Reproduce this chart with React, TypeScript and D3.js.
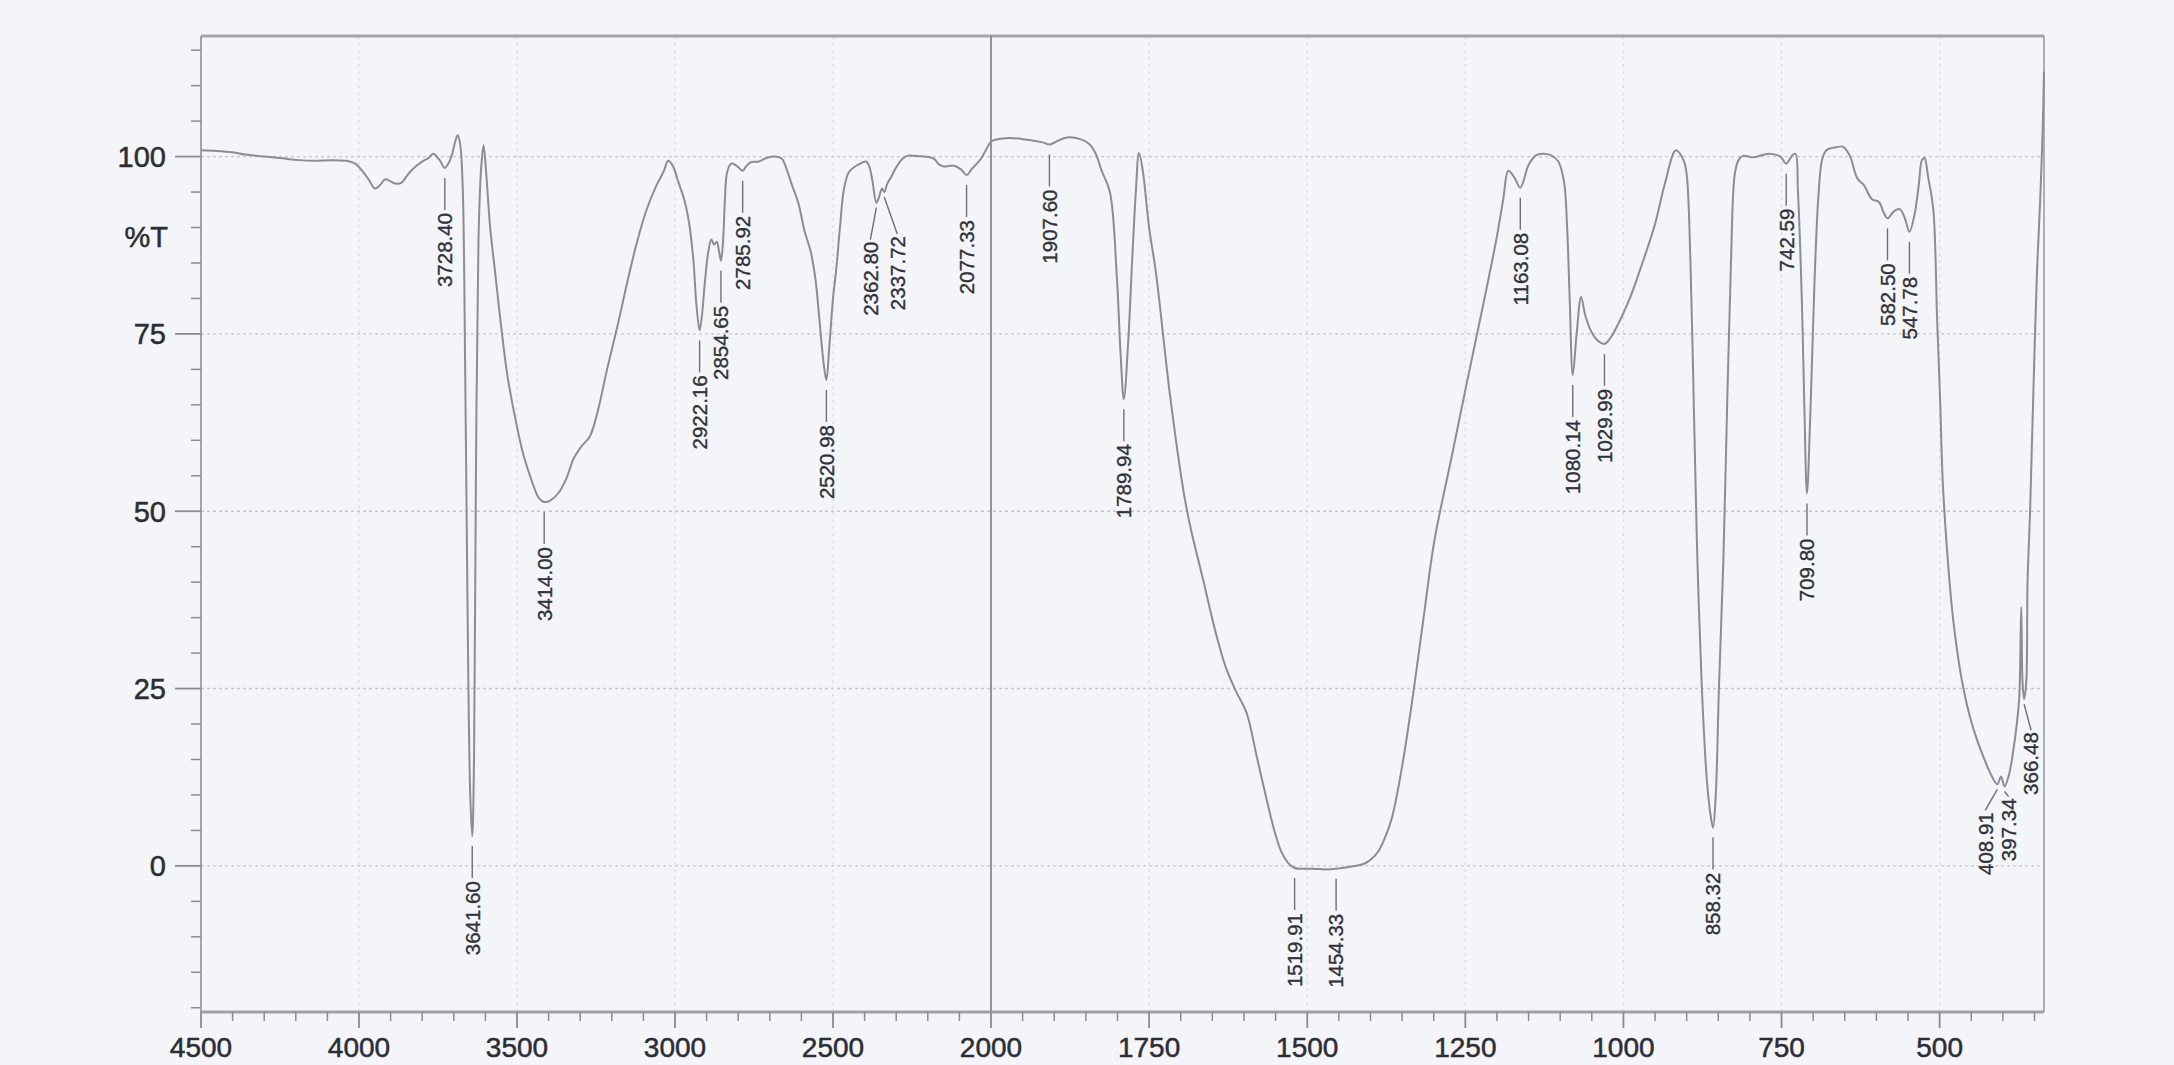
import * as d3 from 'd3';
import { useEffect, useRef } from 'react';

// Wavenumber (cm-1) and %T
const wavenumbers = [
  4500, 4450, 4400, 4360, 4300, 4250, 4190, 4140, 4090, 4040, 4012, 3990, 3970, 3950, 3935, 3917, 3900, 3885, 3866,
  3850, 3835, 3815, 3800, 3780, 3765, 3745, 3728.4, 3715, 3705, 3695, 3688, 3680, 3672, 3664, 3655, 3648, 3641.6,
  3636, 3630, 3622, 3614, 3606, 3598, 3585, 3570, 3550, 3530, 3505, 3480, 3455, 3430, 3414, 3395, 3370, 3345, 3320,
  3295, 3270, 3245, 3215, 3180, 3150, 3120, 3090, 3060, 3035, 3022, 3008, 2990, 2970, 2955, 2942, 2932, 2922.16,
  2915, 2905, 2895, 2885, 2876, 2868, 2860, 2854.65, 2848, 2842, 2835, 2822, 2808, 2795, 2785.92, 2775, 2760, 2735,
  2710, 2685, 2662, 2645, 2630, 2610, 2590, 2570, 2555, 2543, 2530, 2520.98, 2512, 2500, 2490, 2478, 2465, 2450,
  2430, 2410, 2395, 2385, 2375, 2362.8, 2355, 2345, 2337.72, 2328, 2315, 2300, 2280, 2265, 2240, 2210, 2181, 2165,
  2149, 2130, 2117, 2095, 2077.33, 2060, 2045, 2032, 2015, 2000,
  1985, 1965, 1945, 1930, 1918, 1907.6, 1895, 1880, 1860, 1845, 1835, 1825, 1812, 1801, 1795, 1789.94, 1783, 1777,
  1771, 1766, 1760, 1750, 1739, 1717, 1695, 1684, 1665, 1645, 1628, 1612, 1596, 1580, 1564, 1552, 1541, 1530,
  1519.91, 1490, 1470, 1454.33, 1430, 1410, 1398, 1388, 1377, 1366, 1350, 1333, 1316, 1299, 1272, 1246, 1222, 1201,
  1190, 1182, 1172, 1163.08, 1150, 1138, 1129, 1115, 1103, 1094, 1089, 1085, 1080.14, 1074, 1067, 1060, 1050, 1040,
  1029.99, 1020, 1005, 990, 970, 950, 935, 917, 905, 900, 894, 888, 883, 876, 868, 862, 858.32, 854, 849, 842, 836,
  830, 824, 818, 811, 794, 770, 752, 742.59, 733, 728, 724, 718, 714, 709.8, 704, 698, 692, 686, 680, 675, 664, 653,
  642, 630, 620, 607, 596, 588, 582.5, 572, 563, 555, 547.78, 540, 533, 528, 524, 518, 510, 504, 499, 495, 487, 479,
  471, 463, 452, 441, 430, 420, 408.91, 403, 397.34, 390, 384, 378, 374, 371, 369, 366.48, 363, 361, 357, 353, 346,
  341, 337, 335,
];

const transmittance = [
  100.9, 100.8, 100.6, 100.3, 100.0, 99.8, 99.5, 99.4, 99.5, 99.4, 99.0, 98.0, 96.8, 95.5, 95.9, 96.8, 96.5, 96.2, 96.3,
  97.2, 98.0, 98.8, 99.3, 99.8, 100.4, 99.5, 98.4, 99.2, 100.4, 102.2, 103.0, 101.8, 96, 70, 30, 10, 4.2,
  15, 55, 88, 98, 101.6, 98, 90, 84, 76, 69, 63, 58, 54.5, 51.8, 51.3, 51.5, 52.5, 54.5, 57.5,
  59.2, 60.5, 64, 70, 76.5, 82.5, 88, 92.5, 95.8, 98, 99.4, 98.8, 96.5, 93.8, 90.5, 85.5, 79, 75.5,
  77.5, 82.5, 86.5, 88.3, 87.6, 88.0, 86.5, 85.3, 88, 94, 97.8, 99.0, 98.8, 98.3, 98.0, 98.6, 99.2, 99.3,
  99.8, 100.0, 99.7, 98, 96, 93.5, 89.5, 86.5, 82.5, 77, 71, 68.5, 73, 80, 84, 90, 95.5, 97.8,
  98.6, 99.1, 99.3, 98.6, 96.5, 93.5, 94.2, 95.5, 95.0, 96.2, 97.2, 98.5, 99.7, 100.1, 100.1, 100.0, 99.7, 98.9,
  98.6, 98.7, 98.7, 98.2, 97.4, 98.3, 99.0, 99.7, 101.0, 102.1,
  102.5, 102.6, 102.4, 102.2, 102.0, 101.7, 102.2, 102.7, 102.5, 101.8, 100.5, 98, 95, 83, 72, 65.8, 74, 85,
  95, 100.5, 98, 90, 83.5, 66.4, 52.5, 47.5, 40.5, 33, 27.8, 24.5, 21.6, 15.5, 9.3, 5, 2, 0.4,
  -0.3, -0.4, -0.5, -0.4, -0.1, 0.3, 1, 2, 4, 6.8, 14, 23.9, 35, 45.8, 57.5, 68.8, 79, 88.3,
  94, 98, 97, 95.6, 98.8, 100.2, 100.4, 100.2, 99.3, 96.5, 90, 80, 69.2, 75, 80.2, 77.5, 75.2, 74,
  73.6, 74.5, 77, 80, 85, 90.5, 96, 100.9, 99.5, 97.5, 85, 62, 43, 25, 12, 7, 5.4, 10, 25, 43, 65,
  85, 97.5, 99.5, 100.1, 99.9, 100.4, 100, 99.0, 100.2, 100.4, 95, 80, 65, 52.5, 65, 82, 94, 99.5, 100.8, 101.1, 101.3, 101.4,
  100.1, 96.9, 96, 94, 93.6, 92, 91.3, 92.3, 92.6, 91.3, 89.4, 91.7, 96, 99.5, 99.8, 97, 92.5, 77, 65, 54, 43, 35,
  29.5, 25.3, 21, 17.8, 15.2, 13.1, 11.5, 12.6, 11.2, 13.0, 16, 20, 24, 36.5, 26, 23.5, 26, 40, 50, 63, 84,
  94, 104, 112,
];

const peakLabels = [
  '3728.40', '3641.60', '3414.00', '2922.16', '2854.65', '2785.92', '2520.98', '2362.80', '2337.72', '2077.33',
  '1907.60', '1789.94', '1519.91', '1454.33', '1163.08', '1080.14', '1029.99', '858.32', '742.59', '709.80',
  '582.50', '547.78', '408.91', '397.34', '366.48',
];

const xMajorTicks = [4500, 4000, 3500, 3000, 2500, 2000, 1750, 1500, 1250, 1000, 750, 500];
const yMajorTicks = [100, 75, 50, 25, 0];
const yTitle = '%T';

// crowded labels are pushed sideways with a slanted leader
const leaderLayout: Record<string, { dx: number; drop: number }> = {
  '2362.80': { dx: -6, drop: 39 },
  '2337.72': { dx: 13, drop: 44 },
  '408.91': { dx: -12, drop: 28 },
  '397.34': { dx: 4, drop: 12 },
  '366.48': { dx: 7, drop: 33 },
};

const W = 2174;
const H = 1065;
const BG = '#f4f5f9';
const FONT = '"Liberation Sans", Arial, sans-serif';
const INK = '#2c2d35';

export default function App() {
  const ref = useRef<SVGSVGElement>(null);

  useEffect(() => {
    if (!ref.current) return;
    document.body.style.margin = '0';
    document.body.style.overflow = 'hidden';

    const svg = d3.select(ref.current);
    svg.selectAll('*').remove();

    const left = 201, right = 2044, top = 36, bottom = 1012;

    // the instrument compresses 4500-2000 to half the scale of 2000-335
    const x = d3.scaleLinear().domain([4500, 2000, 335]).range([left, 991, right]);
    const y = d3.scaleLinear().domain([-20.6, 117]).range([bottom, top]);

    svg.append('rect').attr('width', W).attr('height', H).attr('fill', BG);

    // Grid
    const grid = svg.append('g');
    grid.selectAll('line.h').data(yMajorTicks).join('line')
      .attr('x1', left).attr('x2', right)
      .attr('y1', d => y(d)).attr('y2', d => y(d))
      .attr('stroke', '#c3c5cf').attr('stroke-width', 1.4).attr('stroke-dasharray', '3,3');
    grid.selectAll('line.v').data(xMajorTicks.filter(d => d !== 4500 && d !== 2000)).join('line')
      .attr('x1', d => x(d)).attr('x2', d => x(d))
      .attr('y1', top).attr('y2', bottom)
      .attr('stroke', '#d9dae2').attr('stroke-width', 1.2).attr('stroke-dasharray', '3,4');

    // Frame
    svg.append('line').attr('x1', left).attr('x2', right).attr('y1', top).attr('y2', top)
      .attr('stroke', '#a4a5ae').attr('stroke-width', 3);
    svg.append('line').attr('x1', left).attr('x2', left).attr('y1', top).attr('y2', bottom)
      .attr('stroke', '#8e8f99').attr('stroke-width', 1.6);
    svg.append('line').attr('x1', right).attr('x2', right).attr('y1', top).attr('y2', bottom)
      .attr('stroke', '#9a9ba4').attr('stroke-width', 1.6);
    svg.append('line').attr('x1', x(2000)).attr('x2', x(2000)).attr('y1', top).attr('y2', bottom)
      .attr('stroke', '#7a7b85').attr('stroke-width', 1.6);
    svg.append('line').attr('x1', left).attr('x2', right).attr('y1', bottom).attr('y2', bottom)
      .attr('stroke', '#9fa0a9').attr('stroke-width', 3);

    // X ticks
    const xMinor = [...d3.range(4400, 2000, -100), ...d3.range(1950, 340, -50)]
      .filter(d => !xMajorTicks.includes(d));
    const xt = svg.append('g');
    xt.selectAll('line.minor').data(xMinor).join('line')
      .attr('x1', d => x(d)).attr('x2', d => x(d))
      .attr('y1', bottom).attr('y2', bottom + 9)
      .attr('stroke', '#8a8b95').attr('stroke-width', 1.5);
    xt.selectAll('line.major').data(xMajorTicks).join('line')
      .attr('x1', d => x(d)).attr('x2', d => x(d))
      .attr('y1', bottom).attr('y2', bottom + 16)
      .attr('stroke', '#8a8b95').attr('stroke-width', 1.8);
    xt.selectAll('text').data(xMajorTicks).join('text')
      .attr('x', d => x(d)).attr('y', 1057)
      .attr('text-anchor', 'middle')
      .attr('font-family', FONT).attr('font-size', 28)
      .attr('fill', INK).attr('stroke', INK).attr('stroke-width', 0.5)
      .text(d => d);

    // Y ticks
    const yMinor = d3.range(-20, 116, 5).filter(d => !yMajorTicks.includes(d));
    const yt = svg.append('g');
    yt.selectAll('line.minor').data(yMinor).join('line')
      .attr('x1', left - 10).attr('x2', left)
      .attr('y1', d => y(d)).attr('y2', d => y(d))
      .attr('stroke', '#8a8b95').attr('stroke-width', 1.5);
    yt.selectAll('line.major').data(yMajorTicks).join('line')
      .attr('x1', left - 26).attr('x2', left)
      .attr('y1', d => y(d)).attr('y2', d => y(d))
      .attr('stroke', '#8a8b95').attr('stroke-width', 1.8);
    yt.selectAll('text').data(yMajorTicks).join('text')
      .attr('x', 166).attr('y', d => y(d)).attr('dy', '0.36em')
      .attr('text-anchor', 'end')
      .attr('font-family', FONT).attr('font-size', 29)
      .attr('fill', INK).attr('stroke', INK).attr('stroke-width', 0.5)
      .text(d => d);
    svg.append('text')
      .attr('x', 168).attr('y', y(88.7)).attr('dy', '0.36em')
      .attr('text-anchor', 'end')
      .attr('font-family', FONT).attr('font-size', 29)
      .attr('fill', INK).attr('stroke', INK).attr('stroke-width', 0.5)
      .text(yTitle);

    // Spectrum
    const pts: [number, number][] = wavenumbers.map((w, i) => [w, transmittance[i]]);
    const line = d3.line<[number, number]>()
      .x(d => x(d[0]))
      .y(d => y(d[1]))
      .curve(d3.curveCatmullRom.alpha(0.5));
    svg.append('path')
      .datum(pts)
      .attr('fill', 'none')
      .attr('stroke', '#8b8c98')
      .attr('stroke-width', 2)
      .attr('stroke-linejoin', 'round')
      .attr('d', line);

    // Peak labels
    const pk = svg.append('g');
    peakLabels.forEach(label => {
      const wn = +label;
      const i = wavenumbers.findIndex(w => Math.abs(w - wn) < 0.01);
      const t = i >= 0 ? transmittance[i] : 100;
      const xc = x(wn);
      const yc = y(t);
      const lay = leaderLayout[label];
      let tx = xc, ty = yc + 45;
      if (lay) {
        tx = xc + lay.dx;
        ty = yc + lay.drop;
        pk.append('line')
          .attr('x1', xc).attr('y1', yc + 5)
          .attr('x2', tx).attr('y2', ty - 2)
          .attr('stroke', '#6e6f7a').attr('stroke-width', 1.4);
      } else {
        pk.append('line')
          .attr('x1', xc).attr('y1', yc + 10)
          .attr('x2', xc).attr('y2', yc + 42)
          .attr('stroke', '#6e6f7a').attr('stroke-width', 1.4);
      }
      pk.append('text')
        .attr('transform', `translate(${tx},${ty}) rotate(-90)`)
        .attr('dy', '0.36em')
        .attr('text-anchor', 'end')
        .attr('font-family', FONT).attr('font-size', 20.5)
        .attr('fill', '#30313a').attr('stroke', '#30313a').attr('stroke-width', 0.35)
        .text(label);
    });
  }, []);

  return (
    <svg ref={ref} width={W} height={H} style={{ display: 'block', position: 'absolute', left: 0, top: 0 }} />
  );
}
